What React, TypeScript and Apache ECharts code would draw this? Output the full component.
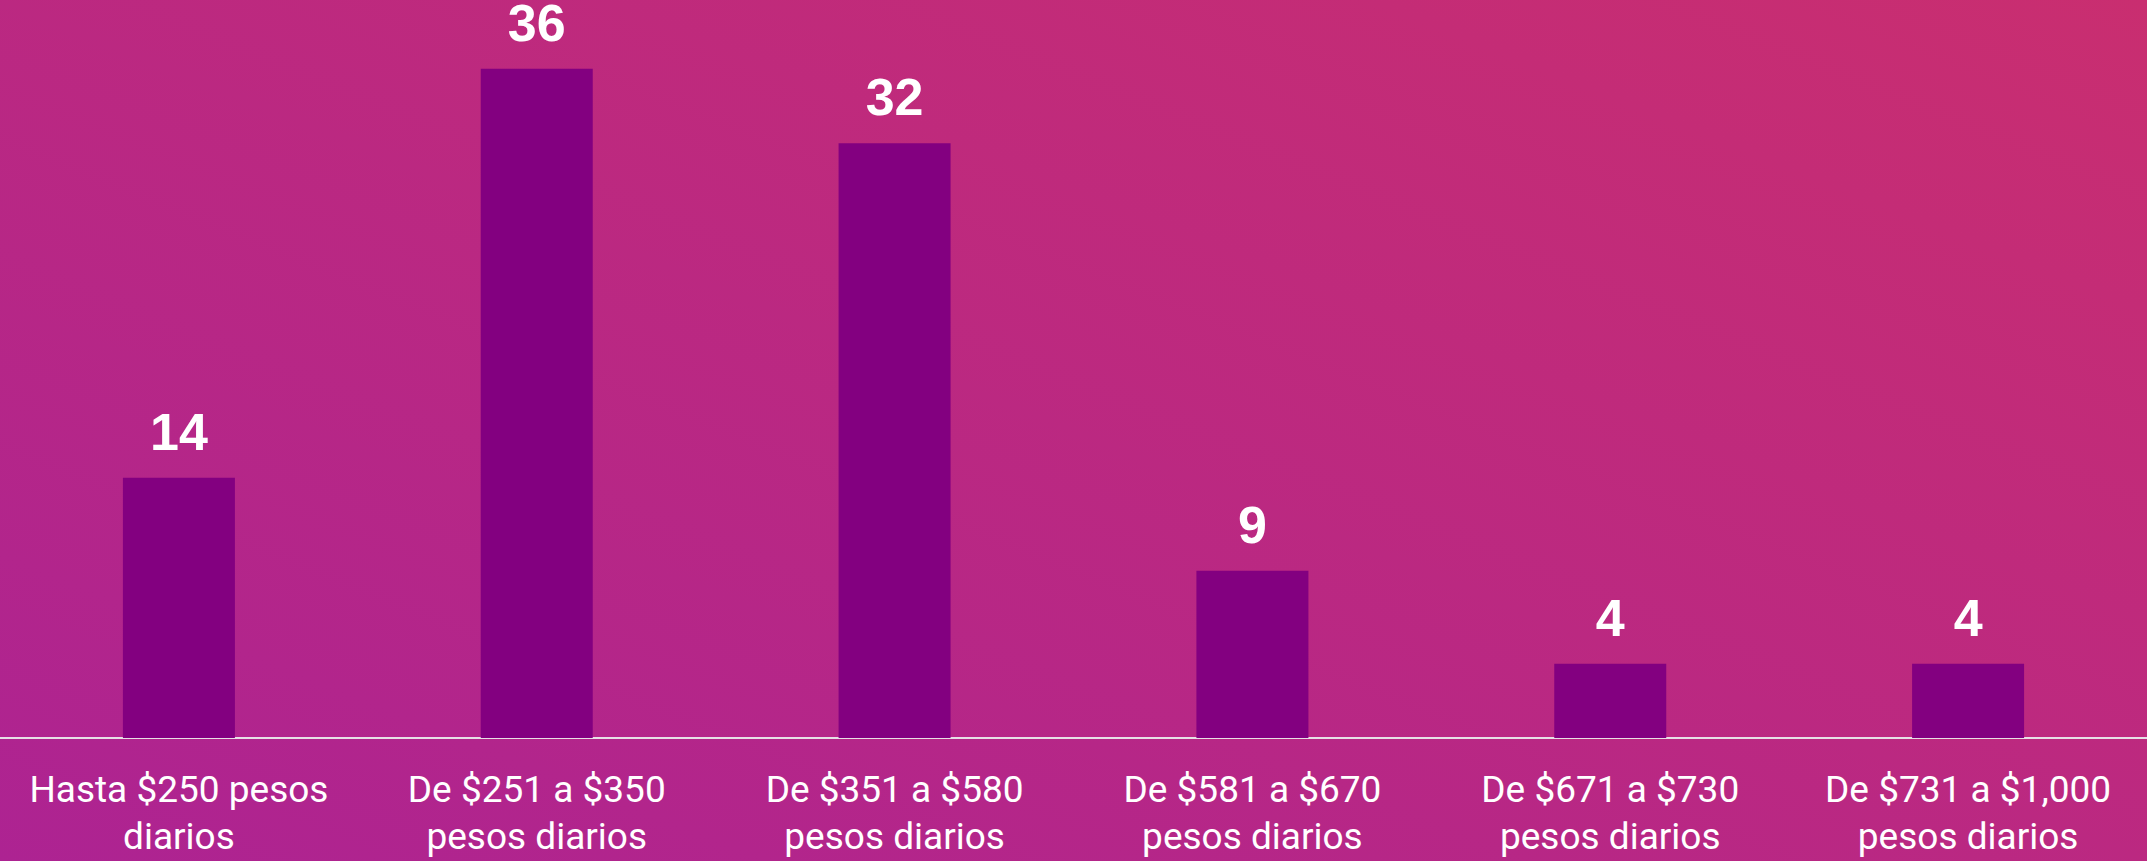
import React, { useEffect, useRef } from "react";
import * as echarts from "echarts";

const categories = [
  "Hasta $250 pesos\ndiarios",
  "De $251 a $350\npesos diarios",
  "De $351 a $580\npesos diarios",
  "De $581 a $670\npesos diarios",
  "De $671 a $730\npesos diarios",
  "De $731 a $1,000\npesos diarios",
];
const values = [14, 36, 32, 9, 4, 4];

export default function App() {
  const ref = useRef<HTMLDivElement>(null);
  useEffect(() => {
    document.body.style.margin = "0";
    const chart = echarts.init(ref.current!, null, { renderer: "svg" });
    chart.setOption({
      animation: false,
      backgroundColor: new echarts.graphic.LinearGradient(0, 1, 1, 0, [
        { offset: 0, color: "#ad2392" },
        { offset: 1, color: "#c92e70" },
      ]),
      grid: { left: 0, right: 0, top: 0, bottom: 123 },
      xAxis: {
        type: "category",
        data: categories,
        axisLine: { lineStyle: { color: "#e6e0e6", width: 2 } },
        axisTick: { show: false },
        axisLabel: {
          color: "#ffffff",
          fontFamily: "Roboto",
          fontSize: 37,
          lineHeight: 47,
          margin: 28,
          interval: 0,
        },
      },
      yAxis: {
        type: "value",
        min: 0,
        max: 39.7,
        show: false,
        splitLine: { show: false },
      },
      series: [
        {
          type: "bar",
          data: values,
          barWidth: "31.3%",
          itemStyle: { color: "#830080" },
          label: {
            show: true,
            position: "top",
            distance: 26,
            color: "#ffffff",
            fontFamily: "Liberation Sans",
            fontWeight: "bold",
            fontSize: 52,
            lineHeight: 40,
          },
        },
      ],
    });
    return () => chart.dispose();
  }, []);
  return <div ref={ref} style={{ width: 2147, height: 861 }} />;
}
